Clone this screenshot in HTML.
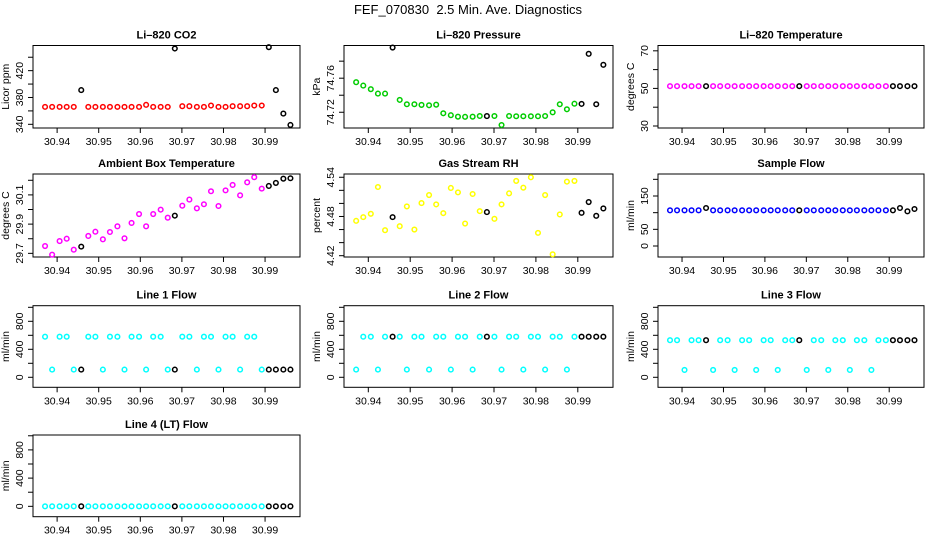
<!DOCTYPE html>
<html><head><meta charset="utf-8"><title>FEF_070830 Diagnostics</title>
<style>
html,body{margin:0;padding:0;background:#fff;}
svg{display:block;font-family:"Liberation Sans",sans-serif;}
</style></head>
<body>
<svg id="chart" width="936" height="540" viewBox="0 0 936 540" xmlns="http://www.w3.org/2000/svg">
<text x="468" y="14" text-anchor="middle" font-size="13" xml:space="preserve" style="white-space:pre">FEF_070830  2.5 Min. Ave. Diagnostics</text>
</svg>
<script>
const times = [30.9371,30.9388,30.9406,30.9423,30.9440,30.9458,30.9475,30.9492,30.9510,30.9527,30.9545,30.9562,30.9579,30.9597,30.9614,30.9631,30.9649,30.9666,30.9683,30.9701,30.9718,30.9736,30.9753,30.9770,30.9788,30.9805,30.9822,30.9840,30.9857,30.9874,30.9892,30.9909,30.9926,30.9944,30.9961];
const blackFlags = [0,0,0,0,0,1,0,0,0,0,0,0,0,0,0,0,0,0,1,0,0,0,0,0,0,0,0,0,0,0,0,1,1,1,1];
const xTicks = [30.94,30.95,30.96,30.97,30.98,30.99];
const xTickLabels = ["30.94","30.95","30.96","30.97","30.98","30.99"];

const co2Values = [366,366,366,366,366,391,366,366,366,366,366,366,366,366,369,366,366,366,453,367,367,366,366,368,366,366,367,367,367,368,368,455,391,356,339];
const pressureValues = [74.7553,74.7513,74.7471,74.7419,74.7419,74.796,74.7345,74.7294,74.7294,74.7286,74.7282,74.7289,74.7188,74.7165,74.7148,74.7146,74.7148,74.7156,74.7155,74.7156,74.705,74.7156,74.7153,74.7153,74.7153,74.7153,74.7156,74.7199,74.7294,74.7235,74.73,74.7298,74.7886,74.7294,74.7757];
const liTempValues = [51.2,51.2,51.2,51.2,51.2,51.2,51.2,51.2,51.2,51.2,51.2,51.2,51.2,51.2,51.2,51.2,51.2,51.2,51.2,51.2,51.2,51.2,51.2,51.2,51.2,51.2,51.2,51.2,51.2,51.2,51.2,51.2,51.2,51.2,51.2];
const ambientValues = [29.750,29.691,29.784,29.800,29.725,29.746,29.819,29.848,29.796,29.846,29.885,29.803,29.908,29.969,29.885,29.969,29.999,29.944,29.958,30.026,30.068,30.008,30.036,30.125,30.024,30.131,30.168,30.097,30.186,30.221,30.143,30.161,30.182,30.211,30.214];
const rhValues = [4.4733,4.4790,4.4841,4.5251,4.4590,4.4790,4.4651,4.4954,4.4600,4.5005,4.5128,4.4985,4.4851,4.5236,4.5169,4.4692,4.5144,4.4882,4.4867,4.4764,4.4985,4.5154,4.5344,4.5241,4.5400,4.4549,4.5128,4.4221,4.4831,4.5333,4.5344,4.4856,4.5021,4.4810,4.4923];
const sampleFlowValues = [107,107,107,107,107,114,107,107,107,107,107,107,107,107,107,107,107,107,107,107,107,107,107,107,107,107,107,107,107,107,107,107,114,104,111];
const line1Values = [580,110,580,580,110,110,580,580,110,580,580,110,580,580,110,580,580,110,110,580,580,110,580,580,110,580,580,110,580,580,110,110,110,110,110];
const line2Values = [110,580,580,110,580,580,580,110,580,580,110,580,580,110,580,580,110,580,580,580,110,580,580,110,580,580,110,580,580,110,580,580,580,580,580];
const line3Values = [530,530,105,530,530,530,105,530,530,105,530,530,105,530,530,105,530,530,530,105,530,530,105,530,530,105,530,530,105,530,530,530,530,530,530];
const line4Values = [0,0,0,0,0,0,0,0,0,0,0,0,0,0,0,0,0,0,0,0,0,0,0,0,0,0,0,0,0,0,0,0,0,0,0];

const co2Ticks = [340,360,380,400,420,440];
const co2Labels = ["340","","380","","420",""];
const pressureTicks = [74.72,74.74,74.76,74.78];
const pressureLabels = ["74.72","","74.76",""];
const liTempTicks = [30,40,50,60,70];
const liTempLabels = ["30","","50","","70"];
const ambientTicks = [29.7,29.8,29.9,30.0,30.1,30.2];
const ambientLabels = ["29.7","","29.9","","30.1",""];
const rhTicks = [4.42,4.44,4.46,4.48,4.50,4.52,4.54];
const rhLabels = ["4.42","","","4.48","","","4.54"];
const sampleTicks = [0,50,100,150,200];
const sampleLabels = ["0","50","","150",""];
const flowTicks = [0,200,400,600,800,1000];
const flowLabels = ["0","","400","","800",""];

const NS = "http://www.w3.org/2000/svg";
const svg = document.getElementById("chart");
const cols = [[33,300],[344,613],[658,924]];
const rows = [[45.5,128],[174,257],[305.7,387.3],[435,516.7]];
const xDom = [30.9342,30.9984];

function mk(tag, attrs, parent){
  const e = document.createElementNS(NS, tag);
  for (const k in attrs) e.setAttribute(k, attrs[k]);
  (parent||svg).appendChild(e);
  return e;
}

const panels = [
  {key:"co2", title:"Li\u2013820 CO2", ylab:"Licor ppm", c:0, r:0, vals:co2Values, dom:[334.5,457.5], ticks:co2Ticks, labels:co2Labels, color:"#ff0000"},
  {key:"pressure", title:"Li\u2013820 Pressure", ylab:"kPa", c:1, r:0, vals:pressureValues, dom:[74.7015,74.7984], ticks:pressureTicks, labels:pressureLabels, color:"#00cd00"},
  {key:"li-temp", title:"Li\u2013820 Temperature", ylab:"degrees C", c:2, r:0, vals:liTempValues, dom:[28.93,72.83], ticks:liTempTicks, labels:liTempLabels, color:"#ff00ff"},
  {key:"ambient-temp", title:"Ambient Box Temperature", ylab:"degrees C", c:0, r:1, vals:ambientValues, dom:[29.675,30.243], ticks:ambientTicks, labels:ambientLabels, color:"#ff00ff"},
  {key:"gas-rh", title:"Gas Stream RH", ylab:"percent", c:1, r:1, vals:rhValues, dom:[4.418,4.545], ticks:rhTicks, labels:rhLabels, color:"#ffff00"},
  {key:"sample-flow", title:"Sample Flow", ylab:"ml/min", c:2, r:1, vals:sampleFlowValues, dom:[-33,216], ticks:sampleTicks, labels:sampleLabels, color:"#0000ff"},
  {key:"line1-flow", title:"Line 1 Flow", ylab:"ml/min", c:0, r:2, vals:line1Values, dom:[-143,1023], ticks:flowTicks, labels:flowLabels, color:"#00ffff"},
  {key:"line2-flow", title:"Line 2 Flow", ylab:"ml/min", c:1, r:2, vals:line2Values, dom:[-143,1023], ticks:flowTicks, labels:flowLabels, color:"#00ffff"},
  {key:"line3-flow", title:"Line 3 Flow", ylab:"ml/min", c:2, r:2, vals:line3Values, dom:[-143,1023], ticks:flowTicks, labels:flowLabels, color:"#00ffff"},
  {key:"line4-flow", title:"Line 4 (LT) Flow", ylab:"ml/min", c:0, r:3, vals:line4Values, dom:[-147,1011], ticks:flowTicks, labels:flowLabels, color:"#00ffff"}
];

panels.forEach(p => {
  const [x0,x1] = cols[p.c], [y0,y1] = rows[p.r];
  const xs = v => x0 + (v - xDom[0]) / (xDom[1] - xDom[0]) * (x1 - x0);
  const ys = v => y1 - (v - p.dom[0]) / (p.dom[1] - p.dom[0]) * (y1 - y0);
  const g = mk("g", {});
  
  
  const box = mk("rect", {x:x0, y:y0, width:x1-x0, height:y1-y0, fill:"none", stroke:"#000", "stroke-width":1}, g);
  
  
  const t = mk("text", {x:(x0+x1)/2, y:y0-7, "text-anchor":"middle", "font-size":"11", "font-weight":"bold"}, g);
  t.textContent = p.title;
  
  
  xTicks.forEach((tv,i) => {
    const X = xs(tv);
    const tk = mk("line", {x1:X, x2:X, y1:y1, y2:y1+5, stroke:"#000"}, g);
    
    
    const tl = mk("text", {x:X, y:y1+17, "text-anchor":"middle", "font-size":"10.5"}, g);
    tl.textContent = xTickLabels[i];
    
    
  });
  p.ticks.forEach((tv,i) => {
    const Y = ys(tv);
    const tk = mk("line", {x1:x0-5, x2:x0, y1:Y, y2:Y, stroke:"#000"}, g);
    
    
    if (p.labels[i]) {
      const lx = x0 - 10;
      const tl = mk("text", {x:lx, y:Y, "text-anchor":"middle", "font-size":"10.5", transform:`rotate(-90 ${lx} ${Y})`}, g);
      tl.textContent = p.labels[i];
      
      
    }
  });
  const ax = x0 - 24, ay = (y0+y1)/2;
  const yt = mk("text", {x:ax, y:ay, "text-anchor":"middle", "font-size":"10.5", transform:`rotate(-90 ${ax} ${ay})`}, g);
  yt.textContent = p.ylab;
  
  
  p.vals.forEach((v,i) => {
    const pt = mk("circle", {cx:xs(times[i]), cy:ys(v), r:2.3, fill:"none", stroke: blackFlags[i] ? "#000" : p.color, "stroke-width":1.5}, g);
    
    
  });
});
</script>
</body></html>
